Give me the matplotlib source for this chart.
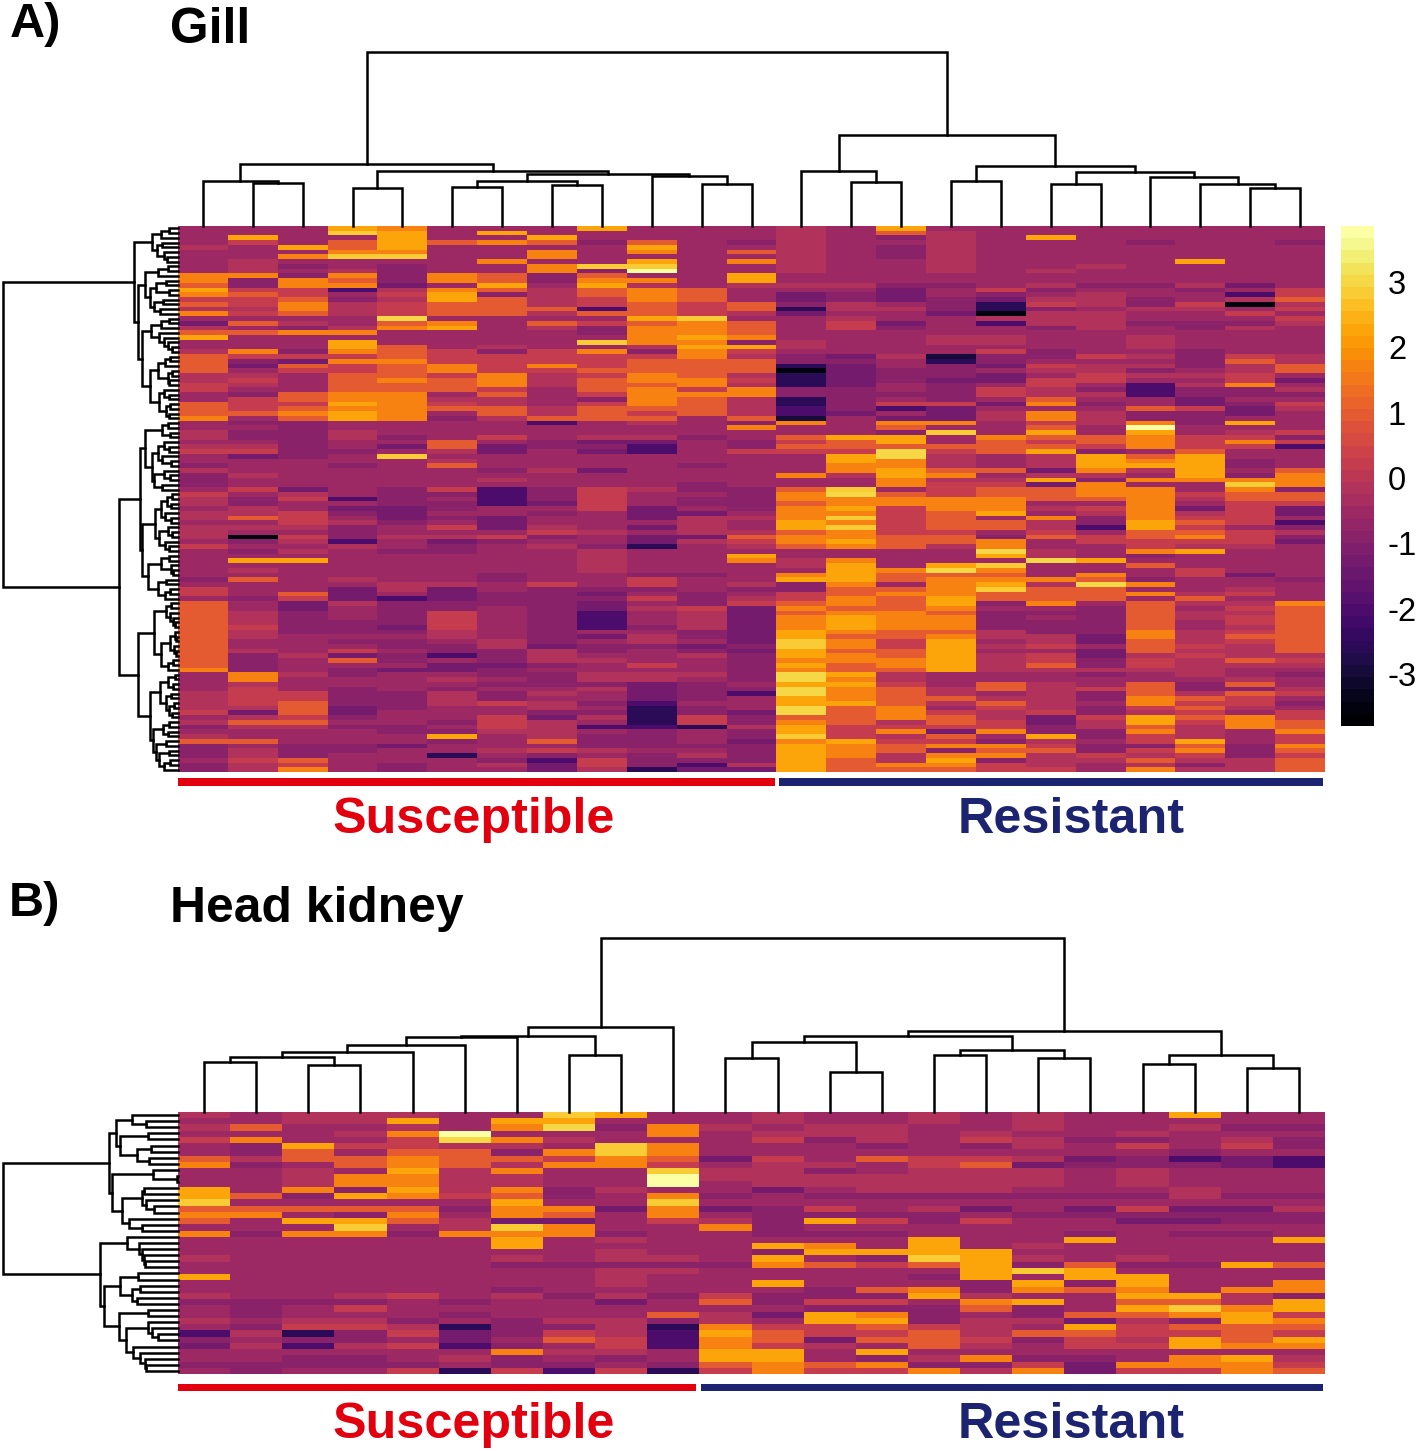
import numpy as np
import matplotlib
matplotlib.use('Agg')
import matplotlib.pyplot as plt
from matplotlib.patches import Rectangle

plt.rcParams['font.family'] = ['Liberation Sans', 'DejaVu Sans']

# Each letter is one heatmap cell, scale value in level_values
level_values = dict(a=-3.5, b=-3.0, c=-2.5, d=-2.0, e=-1.35, f=-0.85, g=-0.5, h=-0.25,
                    i=0.3, j=1.0, k=1.65, l=2.2, m=2.8, n=3.1, o=3.7)

# Gill, one string per sample column, top row first, blocks of ten rows
gill_susceptible = [
    "gggghggggg kkjlkijhkg ehjlgghjjj jhhiiggjjj kgghhghigg fhfffgihhg hhghhhgigg ggggfgiigj jjjjjjjjjj jjjkgggghh hhighfghjf ffgff",
    "gglig gghhh kffijiihig jgjgggkife ghihgfiiij gfgffghieg gghggigffh hjghgafgfg lghgjgggfg ghhhihhggh ffffkkhiii ihehjhggjg hhihh",
    "gggglgkgfg fkkiijkkjg hfkgggfiej iggggjjijk jffffffffg gggggehigg iiihgihghg lggggggjie efffffgggg hggghgggii jjjijhgggf ffjik",
    "lmgjjkmggh kjkdgfhhhg ghkgllkiki ijjjjkklkl lgghhggfgg fggggggdge fghfffdhgg gggghgeeeh gggfffgfgi ejgffggfff feefgfgggf fgggg",
    "kllllkmgff ffehihiiin jkgggjjjkj jjkjjkkkkk kgggfgegmg gggggffffe eefgghggfg ggggghhgdf ffffefgffg ffgeggggff ffgggffgge gggff",
    "gggjgggggg kkgklljjjg klggggiiik kijjjghijg fggggjjhgh jggggifgff gfgigheffg gggggheeef fiiiihhgff dgeeghgfhh hgggfgflfg gcggg",
    "glgkgggkgg jjljfjjjjg ggggghfiii ikkkijhhjj hgggigeegg gfghgddddg geeegifggg gggffggfff ggggggghhf ffeffgfgff iggiiihggg hgfhg",
    "ggljgkkgkk ffghhhhjhg jhggggiiik ihhhgggghh jdgggffggg ghgggfffeg fgghifghgg gggggiffff ffffffffeh hhfgfffghg hhfehhhhjg ifdee",
    "lggfggggmf jkljjiidjg iffgmgkiii jijjjifijj jggghefegg gegggiiiii gggghggfhh hhhgggfefe eddddgegff ghgghhfhgg fgfhgdgfff hgiih",
    "gggjlkglmo gkhkkkjjjl jkkkkhfijj jkkjkkkkji jhggheddgg ggggghggge eegegeecgg gggfiifgig hgggfghhfg ggighheeee dccccdffff gfffc",
    "gggggggggg gggjjjiiim kkklklkkjj jjkkikjjjj ggggfggggg fgggffgffg ehhhhehggg gggfgggfff ihhhhffgef hggghgffff gffiicgggf ghfde",
    "gggfgjgkgg llhgggjjhg jjjkflihjj jhihkkhhhh jfkggffigg gggggfffff ghgghjihgl kgggghfghi eeeeeeeefe ffffffgfdg ggeffhffef fffhe",
]
gill_resistant = [
    "hhhhhhhhhh gghgeefceg gggghhgffc acccffccdd bkggjijigg ggkggjkkjk kklljkkjgg hhgklffiij kjkkkllmml lklknnlnnl lnnjkllmkl lllll",
    "gggggggggg gghgffhhgh iigggggefe eeeefffffe ggggljjill kkhggmnkkl kmkmkklkgg kllllkjjkk jklllkjkkj kkjjlklkkk ljjjjiiilk kkjjj",
    "ljfgfffggg ggfeeeghgg efggggghgg fffggfgidg ekjflljnnk kllkkgjkki iiiiijjjgg ggkjjgjkjj jkkkkjjiij jkkjhhijjj jkkkhikhij jhhkj",
    "ghhhhhhhhh ggfggfffeg ggghhggbcf ffeffffiee ekgmggjihh hjkhiiikkk jjjjijjhgg glnjkkkkll kjkkkjklll llllggghhj hgijjiejik fklkj",
    "gggggggggg gggifeccah dgghhgiffe geegiigegh hgggkjjjgg gjghijjkkk lgjjgfkknl gmkjklmjjf gffffhhghg hhhhggjjgh jihhiikgfk jkfii",
    "gglggggggh gghfghifhh hfggggffgi hgiihhjkgk kijljijlhh hehlejjjgh gkhhijgghh ngggkhjjjk gfgfffhhig iijhgghhhh hhieefflhi jhhhi",
    "gggggggghg ggfghhhghh hhgggggigh hiigfhgfgh hhggjjifll lkhfkkkjgi hffdgiiggg lggkjnjjjg ffffffeege effhfggiff gffihhffgf fihgg",
    "gggfgggggg ggfggffhgg fgghhhghgh fhgdddggjf fkolkkkgjk lhgkgkkkkk kklljjiikf gjggfkgkgj jjjjjkkjjj hiihggjjjk kihlljkiif ihjhk",
    "ggggggglgg gghfggihgg ffggggffff ghghffeeif ffggiiijll lllkggihge hijijkihlg ggiiggghjh ghhgghhhih ihhhhgffhj ijijihhhlj kihfh",
    "gggggggggg ggegdhagig fhgggggijh hiikffgfee glghikiggf fgfkmkjjii iiigiiihgg gggegghigh ihiihijihh hjhgghjfji ihgkkkgggf ffhhh",
    "gggfgggggg gggiijhigi hgggggghhj jgeghfgihg gggifidggg gjkkkfjjie egdfhfeggg ggggfggggk jjjjjjjjjj hihgfgghig fgiijjkiik jijjj",
]

# Head kidney, same coding
kidney_susceptible = [
    "hghgiggjkg ggllmjkjgk ggghgglggh fgghgdfegg fg",
    "ggjgkffhfg gggjgjkggf gggggggggg fffgfhghgg ff",
    "hhgggljjgh hhkfgjglgk gggggggggg fgghicfdgf fg",
    "hhghgigjjg kkflgjflmk gggggggggh fighiffhgf fg",
    "hlhkiijkkl kklkgjkjgf gggggggggi gggfhigigg fi",
    "gggonhjjjh hhhigfghhk gggggggggg fgfgceedgh gc",
    "glkgkhfjhk hhkjlkkemk llghfgggfh gggfffgfkf fi",
    "mlnghgkikg ggffgkjekk ggggfggggf ggghfijghg fd",
    "lgfggmmkkg gghggegggf hghhfhhhgh egghhhiihf gi",
    "ggkkgkkjim oogkmkkigg ggghfhgggf ggjfcdddgg fc",
]
kidney_resistant = [
    "gghggggegh hggfgeghkg ggggfggggi jghhklkkll ji",
    "hhghiggihh hheggfffff glflkgglgf fgegijjill kk",
    "gghhfggghf hhgfgiflgf gklgjgggff iflliiehgg ji",
    "gghhhfgjgg hhhfggfigf gglfigggjf ifkljijglf ki",
    "hhgggggiih hhhfghffgg lllmjgfgkl gfffijjjgh fk",
    "ggghifgijh hhhfgegigg gglllllffh kjghhhihgk fh",
    "hhhghhgheh hhgfggfggg ghghfmglkg lffhgjfggf ik",
    "ggggfggefg gggfgefggf lgggjllfjg ggjeljiigf ee",
    "ggghfigffh hhgfgifegg ggghfgllkl jljhiihigg ki",
    "lghgggfdfg gghhgefegf ggggfggggl jmkfjillgk ki",
    "ggfghigeeg gggfgeffgf gggglgggkh hklljjjkgl kk",
    "ggfgffgddg gggfghffgg lgggjggkkf llikjilkgh ij",
]

# Dendrograms: (merge height, first child, second child), 0 is a leaf
gill_col_tree = (174,
    (62, (45, 0, (43, 0, 0)),
         (55, (38, 0, 0),
              (52, (45, (39, 0, 0), (41, 0, 0)), (50, 0, (42, 0, 0))))),
    (91, (55, 0, (44, 0, 0)),
         (60, (45, 0, 0),
              (54, (42, 0, 0), (49, 0, (42, 0, (38, 0, 0)))))))

gill_row_upper = (44,
    (26, (17, (9, 0, 0), 0), (21, (16, 0, 0), (14, 0, (11, 0, 0)))),
    (40, (33, (20, (10, 0, 0), 0),
              (28, (22, (12, 0, 0), (9, 0, 0)), (24, (15, 0, 0), (18, 0, 0)))),
         (36, (27, (17, (9, 0, 0), 0), (19, 0, (14, 0, (10, 0, (6, 0, 0))))),
              (28, (20, (13, (8, 0, 0), 0), (10, (6, 0, 0), (9, 0, 0))),
                   (19, (14, 0, (9, 0, 0)), (12, (8, 0, 0), (9, 0, 0)))))))
gill_row_lower = (59,
    (38, (33, (16, (10, 0, 0), (8, 0, 0)),
              (26, (20, (14, 0, (9, 0, 0)), (16, 0, (7, 0, 0))),
                   (24, (14, 0, (8, 0, 0)), (16, 0, 0)))),
         (36, (23, (17, (11, (6, 0, 0), (7, 0, 0)), (13, 0, (7, 0, 0))),
                   (19, (10, 0, (6, 0, 0)), (13, 0, (9, 0, 0)))),
              (30, (17, (9, 0, 0), (7, 0, (5, 0, 0))), (20, (12, 0, 0), (13, (8, 0, 0), 0))))),
    (40, (24, (12, (7, 0, 0), (8, 0, (5, 0, (3, 0, 0)))),
              (17, (8, (3, 0, (2, 0, 0)), (4, 0, (2, 0, 0))), (10, (5, 0, 0), 0))),
         (28, (18, (10, (3, 0, 0), (5, 0, 0)), (12, (7, 0, 0), (9, (4, 0, 0), (6, 0, 0)))),
              (25, (15, (9, 0, 0), (10, 0, 0)),
                   (22, (12, 0, 0), (19, (9, 0, 0), (14, (8, 0, 0), 0)))))))
gill_row_tree = (175, gill_row_upper, gill_row_lower)

kidney_col_tree = (174,
    (85, (76, (75, (67, (60, (55, (50, 0, 0), (47, 0, 0)), 0), 0), 0), (57, 0, 0)), 0),
    (81, (76, (70, (54, 0, 0), (40, 0, 0)), (62, (57, 0, 0), (54, 0, 0))),
         (57, (48, 0, 0), (44, 0, 0))))

kidney_row_tree = (175,
    (69, (62, (46, 0, (32, 0, 0)),
              (58, (30, 0, 0), (41, (27, 0, 0), (29, 0, 0)))),
         (66, (25, 0, (1, 0, 0)),
              (56, (36, (34, 0, 0), (32, 0, (24, 0, 0))), (49, 0, (36, 0, 0))))),
    (78, (51, 0, (39, 0, (36, 0, (34, 0, (33, 0, 0))))),
         (74, (58, (40, 0, 0), (46, (38, 0, 0), (41, 0, 0))),
              (59, (30, 0, 0),
                   (52, (30, 0, (26, 0, (20, 0, 0))),
                        (45, 0, (38, 0, (33, 0, (32, 0, 0)))))))))

cbar_ticks = [-3, -2, -1, 0, 1, 2, 3]
vmin, vmax = -3.8, 3.86

W, H = 1418, 1451
red = '#e2000f'
navy = '#1c2370'


def px_axes(fig, left, top, right, bottom):
    return fig.add_axes([left / W, 1 - bottom / H, (right - left) / W, (bottom - top) / H])


def decode(columns):
    cells = [[level_values[c] for c in col.replace(' ', '')] for col in columns]
    n = max(len(c) for c in cells)
    cells = [c + c[-1:] * (n - len(c)) for c in cells]
    return np.array(cells).T


def count_leaves(node):
    if node == 0:
        return 1
    return count_leaves(node[1]) + count_leaves(node[2])


# Walks the tree, returns leaf position and height of the node
def draw_tree(ax, node, counter, horizontal):
    if node == 0:
        counter[0] += 1
        return counter[0] - 0.5, 0
    p1, h1 = draw_tree(ax, node[1], counter, horizontal)
    p2, h2 = draw_tree(ax, node[2], counter, horizontal)
    h = node[0]
    pos = [p1, p1, p2, p2]
    hts = [h1, h, h, h2]
    if horizontal:
        ax.plot(pos, hts, color='black', lw=1.8, solid_joinstyle='miter', clip_on=False)
    else:
        ax.plot(hts, pos, color='black', lw=1.8, solid_joinstyle='miter', clip_on=False)
    return (p1 + p2) / 2, h


def draw_panel(fig, columns, col_tree, row_tree, top, bottom, cmap):
    data = decode(columns)
    left, right = 178, 1325
    ax = px_axes(fig, left, top, right, bottom)
    ax.pcolormesh(data, cmap=cmap, vmin=vmin, vmax=vmax, antialiased=False)
    ax.set_ylim(data.shape[0], 0)
    ax.axis('off')

    ax_top = px_axes(fig, left, top - 176, right, top)
    draw_tree(ax_top, col_tree, [0], True)
    ax_top.set_xlim(0, data.shape[1])
    ax_top.set_ylim(0, 176)
    ax_top.axis('off')

    ax_left = px_axes(fig, 0, top, left, bottom)
    draw_tree(ax_left, row_tree, [0], False)
    ax_left.set_xlim(178, 0)
    ax_left.set_ylim(count_leaves(row_tree), 0)
    ax_left.axis('off')


fig = plt.figure(figsize=(W / 100, H / 100), dpi=100)
cmap = plt.get_cmap('inferno', 41)

draw_panel(fig, gill_susceptible + gill_resistant, gill_col_tree, gill_row_tree, 226, 772, cmap)
draw_panel(fig, kidney_susceptible + kidney_resistant, kidney_col_tree, kidney_row_tree, 1112, 1374, cmap)

# Colour bar
cax = px_axes(fig, 1341, 226, 1374, 726)
scale = np.linspace(vmin, vmax, 42)
cax.pcolormesh([0, 1], scale, ((scale[:-1] + scale[1:]) / 2)[:, None], cmap=cmap, vmin=vmin, vmax=vmax,
               antialiased=False)
cax.set_xticks([])
cax.yaxis.tick_right()
cax.set_yticks(cbar_ticks)
cax.set_yticklabels([str(t) for t in cbar_ticks], fontsize=23.5)
cax.tick_params(axis='y', length=0, pad=10)
for s in cax.spines.values():
    s.set_visible(False)

# Overlay in pixel units for labels and group bars
over = fig.add_axes([0, 0, 1, 1], zorder=5)
over.set_xlim(0, W)
over.set_ylim(H, 0)
over.axis('off')

over.add_patch(Rectangle((178, 778), 597, 8, color=red, lw=0))
over.add_patch(Rectangle((779, 778), 544, 8, color=navy, lw=0))
over.add_patch(Rectangle((178, 1384), 518, 7, color=red, lw=0))
over.add_patch(Rectangle((701, 1384), 622, 7, color=navy, lw=0))

bold = dict(fontweight='bold', va='baseline')
over.text(10, 37, 'A)', fontsize=35, **bold)
over.text(170, 43, 'Gill', fontsize=35.8, **bold)
over.text(9, 916, 'B)', fontsize=35, **bold)
over.text(170, 922, 'Head kidney', fontsize=35.8, **bold)
over.text(474, 833, 'Susceptible', fontsize=36.2, color=red, ha='center', **bold)
over.text(1071, 833, 'Resistant', fontsize=36.3, color=navy, ha='center', **bold)
over.text(474, 1438, 'Susceptible', fontsize=36.2, color=red, ha='center', **bold)
over.text(1071, 1438, 'Resistant', fontsize=36.3, color=navy, ha='center', **bold)

fig.savefig('out.png', dpi=100)
